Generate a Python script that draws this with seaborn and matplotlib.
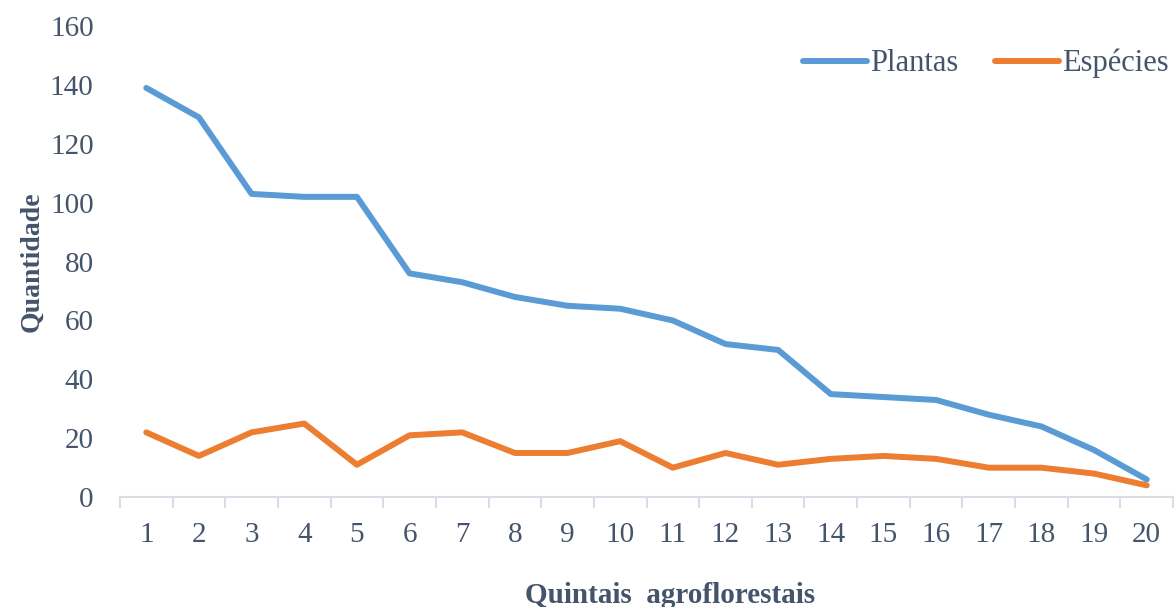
import matplotlib
matplotlib.use("Agg")
import matplotlib.pyplot as plt
import seaborn as sns
import pandas as pd
import numpy as np

quintais = list(range(1, 21))
plantas = [139, 129, 103, 102, 102, 76, 73, 68, 65, 64, 60, 52, 50, 35, 34, 33, 28, 24, 16, 6]
especies = [22, 14, 22, 25, 11, 21, 22, 15, 15, 19, 10, 15, 11, 13, 14, 13, 10, 10, 8, 4]
yticks = [0, 20, 40, 60, 80, 100, 120, 140, 160]

sns.set_theme(style="white")
plt.rcParams['font.family'] = ['Liberation Serif', 'DejaVu Serif']

text_color = "#44546A"

df = pd.DataFrame({
    "Quintal": quintais * 2,
    "Quantidade": plantas + especies,
    "Serie": ["Plantas"] * len(quintais) + ["Espécies"] * len(quintais),
})

fig = plt.figure(figsize=(11.76, 6.07), dpi=100)
ax = fig.add_axes([0.102, 0.181, 0.8955, 0.776])

sns.lineplot(data=df, x="Quintal", y="Quantidade", hue="Serie",
             palette={"Plantas": "#5B9BD5", "Espécies": "#ED7D31"},
             linewidth=4.3, ax=ax, legend=True)
for ln in ax.lines:
    ln.set_solid_capstyle("round")
    ln.set_solid_joinstyle("round")

ax.set_xlim(0.5, 20.5)
ax.set_ylim(0, 160)
ax.set_yticks(yticks)
ax.set_xticks(quintais)
ax.set_xticks(np.arange(0.5, 21, 1), minor=True)
ax.tick_params(axis="x", which="major", bottom=True, length=0, pad=18, labelsize=21, labelcolor=text_color)
ax.tick_params(axis="x", which="minor", bottom=True, length=8, width=1.5, color="#D9DEE6", direction="out")
ax.tick_params(axis="y", length=0, pad=19, labelsize=21, labelcolor=text_color)

for s in ["top", "right", "left"]:
    ax.spines[s].set_visible(False)
ax.spines["bottom"].set_color("#D9DEE6")
ax.spines["bottom"].set_linewidth(1.5)

ax.set_xlabel("Quintais  agroflorestais", fontsize=21, fontweight="bold", color=text_color)
ax.xaxis.set_label_coords(0.522, -0.18)
ax.set_ylabel("Quantidade", fontsize=20, fontweight="bold", color=text_color, labelpad=4)
ax.grid(False)

handles, labels = ax.get_legend_handles_labels()
leg = ax.legend(handles, labels, loc="upper right", bbox_to_anchor=(1.022, 1.01), ncol=2,
                frameon=False, fontsize=22, handlelength=2.1, columnspacing=1.2,
                handletextpad=0.1, labelcolor=text_color)
for h in leg.get_lines():
    h.set_linewidth(4.3)
    h.set_solid_capstyle("round")

fig.savefig("out.png", dpi=100, facecolor="white")
